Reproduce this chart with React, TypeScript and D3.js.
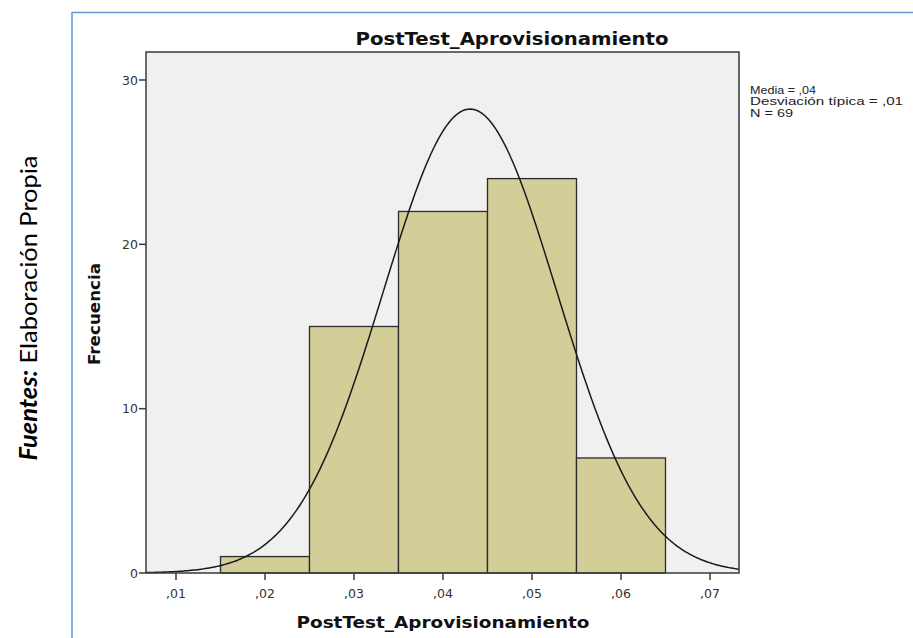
import React from "react";
import * as d3 from "d3";

const binStarts = [0.015, 0.025, 0.035, 0.045, 0.055];
const binWidth = 0.01;
const counts = [1, 15, 22, 24, 7];
const xTicks = [0.01, 0.02, 0.03, 0.04, 0.05, 0.06, 0.07];
const xTickLabels = [",01", ",02", ",03", ",04", ",05", ",06", ",07"];
const yTicks = [0, 10, 20, 30];
const legendLines = ["Media = ,04", "Desviación típica = ,01", "N = 69"];
const legendWidths = [66, 153, 43];
const meanValue = 0.04304;
const sdValue = 0.00975;
const nValue = 69;

export default function App() {
  const W = 913, H = 638;
  const left = 146, right = 739, top = 52, bottom = 573;
  const x = d3.scaleLinear().domain([0.01, 0.07]).range([176, 710]);
  const y = d3.scaleLinear().domain([0, 30]).range([bottom, 80]);
  const xMin = x.invert(left), xMax = x.invert(right);
  const pts: [number, number][] = [];
  for (let i = 0; i <= 300; i++) {
    const v = xMin + ((xMax - xMin) * i) / 300;
    const d = (nValue * binWidth) / (sdValue * Math.sqrt(2 * Math.PI)) * Math.exp(-0.5 * ((v - meanValue) / sdValue) ** 2);
    pts.push([x(v), y(d)]);
  }
  const line = d3.line()(pts) || "";
  const font = "'DejaVu Sans', Verdana, sans-serif";
  const legendFont = "'Liberation Sans', Arial, sans-serif";
  return (
    <svg width={W} height={H} style={{ position: "absolute", left: 0, top: 0 }}>
      <rect x={0} y={0} width={W} height={H} fill="#fff" />
      <line x1={72} y1={12.5} x2={W} y2={12.5} stroke="#5b9bd5" strokeWidth={1.5} />
      <line x1={72} y1={12} x2={72} y2={H} stroke="#5b9bd5" strokeWidth={1.5} />
      <text transform={`translate(37,308) rotate(-90)`} textAnchor="middle" fontFamily="Lato, 'Open Sans', sans-serif" fontSize={24} fill="#000"
        textLength={305} lengthAdjust="spacingAndGlyphs">
        <tspan fontWeight="bold" fontStyle="italic">Fuentes:</tspan>
        <tspan> Elaboración Propia</tspan>
      </text>
      <rect x={left} y={top} width={right - left} height={bottom - top} fill="#f0f0f0" />
      {binStarts.map((b, i) => (
        <rect key={i} x={x(b)} y={y(counts[i])} width={x(b + binWidth) - x(b)} height={bottom - y(counts[i])}
          fill="#d3ce97" stroke="#2b2b2b" strokeWidth={1.3} />
      ))}
      <path d={line} fill="none" stroke="#1a1a1a" strokeWidth={1.5} />
      <rect x={left} y={top} width={right - left} height={bottom - top} fill="none" stroke="#3a3a3a" strokeWidth={1.5} />
      {yTicks.map((t) => (
        <g key={t}>
          <line x1={left - 7} x2={left} y1={y(t)} y2={y(t)} stroke="#3a3a3a" strokeWidth={1.5} />
          <text x={left - 8} y={y(t) + 4.5} textAnchor="end" fontFamily={font} fontSize={12.5} fill="#333">{t}</text>
        </g>
      ))}
      {xTicks.map((t, i) => (
        <g key={t}>
          <line x1={x(t)} x2={x(t)} y1={bottom} y2={bottom + 7} stroke="#3a3a3a" strokeWidth={1.5} />
          <text x={x(t)} y={bottom + 25} textAnchor="middle" fontFamily={font} fontSize={12.5} fill="#333">{xTickLabels[i]}</text>
        </g>
      ))}
      <text x={512} y={45} textAnchor="middle" fontFamily={font} fontWeight="bold" fontSize={17} fill="#111"
        textLength={313} lengthAdjust="spacingAndGlyphs">PostTest_Aprovisionamiento</text>
      <text x={443} y={628} textAnchor="middle" fontFamily={font} fontWeight="bold" fontSize={16.5} fill="#111"
        textLength={293} lengthAdjust="spacingAndGlyphs">PostTest_Aprovisionamiento</text>
      <text transform={`translate(100,314) rotate(-90)`} textAnchor="middle" fontFamily={font} fontWeight="bold" fontSize={16} fill="#111"
        textLength={102} lengthAdjust="spacingAndGlyphs">Frecuencia</text>
      {legendLines.map((s, i) => (
        <text key={i} x={750} y={93.5 + i * 11.5} fontFamily={legendFont} fontSize={10.5} fill="#222"
          textLength={legendWidths[i]} lengthAdjust="spacingAndGlyphs">{s}</text>
      ))}
    </svg>
  );
}
